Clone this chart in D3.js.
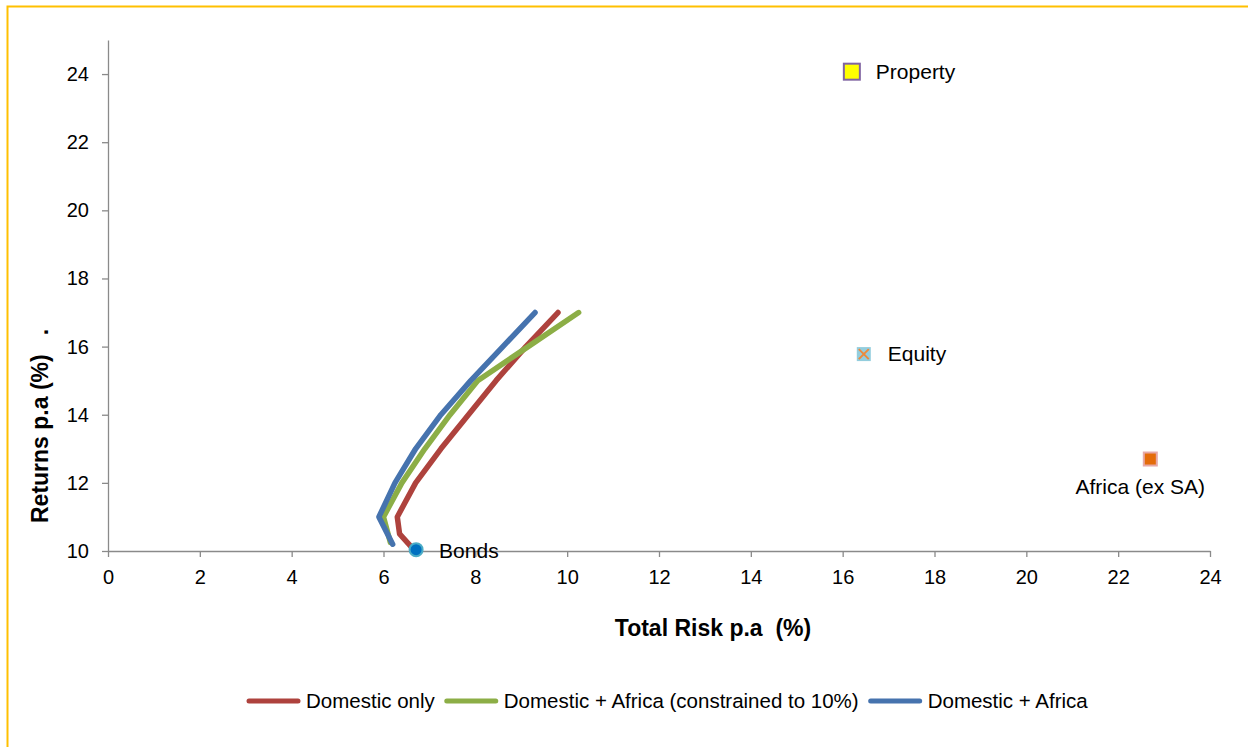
<!DOCTYPE html>
<html>
<head>
<meta charset="utf-8">
<script src="https://cdn.jsdelivr.net/npm/d3@7"></script>
<style>
  html, body { margin: 0; padding: 0; background: #fff; }
  svg { display: block; font-family: "Liberation Sans", Arial, sans-serif; }
</style>
</head>
<body>
<svg id="chart" width="1248" height="747"></svg>
<script>
// Efficient frontiers: return (%) against total risk (%)
const frontierReturns = [10.1, 10.5, 11, 12, 13, 14, 15, 16, 17];
const riskDomesticOnly = [6.62, 6.35, 6.3, 6.7, 7.25, 7.85, 8.45, 9.1, 9.8];

const constrainedReturns = [10.25, 11, 12, 13, 14, 15, 16, 17];
const riskConstrained = [6.15, 6.0, 6.4, 6.9, 7.45, 8.05, 9.15, 10.25];

const africaReturns = [10.2, 11, 12, 13, 14, 15, 16, 17];
const riskDomesticAfrica = [6.2, 5.9, 6.25, 6.7, 7.25, 7.9, 8.6, 9.3];

const seriesNames = ["Domestic only", "Domestic + Africa (constrained to 10%)", "Domestic + Africa"];
const seriesColors = ["#AE423D", "#8CAE46", "#4673AE"];

// Individual asset classes
const assetNames = ["Property", "Equity", "Africa (ex SA)", "Bonds"];
const assetRisk = [16.2, 16.46, 22.7, 6.71];
const assetReturn = [24.07, 15.78, 12.7, 10.04];

const xTicks = [0, 2, 4, 6, 8, 10, 12, 14, 16, 18, 20, 22, 24];
const yTicks = [10, 12, 14, 16, 18, 20, 22, 24];

const svg = d3.select("#chart");

// frame
svg.append("rect")
  .attr("x", 7.5).attr("y", 6.5)
  .attr("width", 1260).attr("height", 760)
  .attr("fill", "#fff")
  .attr("stroke", "#FFC000").attr("stroke-width", 2);

const x = d3.scaleLinear().domain([0, 24]).range([108, 1210]);
const y = d3.scaleLinear().domain([10, 25]).range([551, 40]);

const axisColor = "#8A8A8A";

// x axis
const gx = svg.append("g").attr("transform", `translate(0,${y(10)})`)
  .call(d3.axisBottom(x).tickValues(xTicks).tickFormat(d3.format("d"))
    .tickSize(6).tickPadding(13).tickSizeOuter(0));
gx.select(".domain").attr("stroke", axisColor).attr("stroke-width", 1.3);
gx.selectAll(".tick line").attr("stroke", axisColor).attr("stroke-width", 1.3);
gx.selectAll(".tick text").attr("fill", "#000").attr("font-size", 20)
  .attr("font-family", "Liberation Sans, Arial, sans-serif");

// y axis
const gy = svg.append("g").attr("transform", `translate(${x(0)},0)`)
  .call(d3.axisLeft(y).tickValues(yTicks).tickFormat(d3.format("d"))
    .tickSize(6).tickPadding(13).tickSizeOuter(0));
gy.select(".domain").attr("stroke", axisColor).attr("stroke-width", 1.3);
gy.selectAll(".tick line").attr("stroke", axisColor).attr("stroke-width", 1.3);
gy.selectAll(".tick text").attr("fill", "#000").attr("font-size", 20)
  .attr("font-family", "Liberation Sans, Arial, sans-serif");

// axis titles
svg.append("text")
  .attr("x", 713).attr("y", 636)
  .attr("text-anchor", "middle")
  .attr("font-weight", "bold").attr("font-size", 23)
  .style("white-space", "pre")
  .text("Total Risk p.a  (%)");

svg.append("text")
  .attr("transform", "translate(48,523) rotate(-90)")
  .attr("text-anchor", "start")
  .attr("font-weight", "bold").attr("font-size", 23)
  .style("white-space", "pre")
  .text("Returns p.a (%)   .");

// frontier lines
const frontiers = [
  { risk: riskDomesticOnly, ret: frontierReturns },
  { risk: riskConstrained, ret: constrainedReturns },
  { risk: riskDomesticAfrica, ret: africaReturns }
];
const line = d3.line().x(d => x(d[0])).y(d => y(d[1]));
frontiers.forEach((s, i) => {
  const pts = s.risk.map((r, j) => [r, s.ret[j]]);
  svg.append("path")
    .attr("d", line(pts))
    .attr("fill", "none")
    .attr("stroke", seriesColors[i])
    .attr("stroke-width", 5.5)
    .attr("stroke-linejoin", "round")
    .attr("stroke-linecap", "round");
});

// asset markers
const gm = svg.append("g");
// Property: yellow square
gm.append("rect")
  .attr("x", x(assetRisk[0]) - 8).attr("y", y(assetReturn[0]) - 8)
  .attr("width", 16).attr("height", 16)
  .attr("fill", "#FFFF00").attr("stroke", "#8064A2").attr("stroke-width", 2);
// Equity: light-blue square with an orange cross
{
  const cx = x(assetRisk[1]), cy = y(assetReturn[1]);
  gm.append("rect")
    .attr("x", cx - 7).attr("y", cy - 7).attr("width", 14).attr("height", 14)
    .attr("fill", "#93CDDD");
  gm.append("path")
    .attr("d", `M${cx - 5},${cy - 5}L${cx + 5},${cy + 5}M${cx + 5},${cy - 5}L${cx - 5},${cy + 5}`)
    .attr("stroke", "#EC8A3C").attr("stroke-width", 2);
}
// Africa (ex SA): orange square
gm.append("rect")
  .attr("x", x(assetRisk[2]) - 6.5).attr("y", y(assetReturn[2]) - 6.5)
  .attr("width", 13).attr("height", 13)
  .attr("fill", "#E46C0A").attr("stroke", "#E6A9A8").attr("stroke-width", 2);
// Bonds: blue circle
gm.append("circle")
  .attr("cx", x(assetRisk[3])).attr("cy", y(assetReturn[3])).attr("r", 6.5)
  .attr("fill", "#0070C0").attr("stroke", "#4BACC6").attr("stroke-width", 2);

// asset labels
const labelFont = 21;
svg.append("text").attr("x", x(assetRisk[0]) + 24).attr("y", y(assetReturn[0]) + 7)
  .attr("font-size", labelFont).text(assetNames[0]);
svg.append("text").attr("x", x(assetRisk[1]) + 24).attr("y", y(assetReturn[1]) + 7)
  .attr("font-size", labelFont).text(assetNames[1]);
svg.append("text").attr("x", x(assetRisk[2]) - 10).attr("y", y(assetReturn[2]) + 35)
  .attr("text-anchor", "middle")
  .attr("font-size", labelFont).text(assetNames[2]);
svg.append("text").attr("x", x(assetRisk[3]) + 23).attr("y", y(assetReturn[3]) + 8)
  .attr("font-size", labelFont).text(assetNames[3]);

// legend
const legend = svg.append("g").attr("transform", "translate(247,701)");
let cursor = 0;
seriesNames.forEach((name, i) => {
  legend.append("line")
    .attr("x1", cursor + 2).attr("x2", cursor + 51)
    .attr("y1", 0).attr("y2", 0)
    .attr("stroke", seriesColors[i]).attr("stroke-width", 5)
    .attr("stroke-linecap", "round");
  const t = legend.append("text")
    .attr("x", cursor + 59).attr("y", 7)
    .attr("font-size", 20.5)
    .text(name);
  cursor += 59 + t.node().getComputedTextLength() + 10;
});
</script>
</body>
</html>
